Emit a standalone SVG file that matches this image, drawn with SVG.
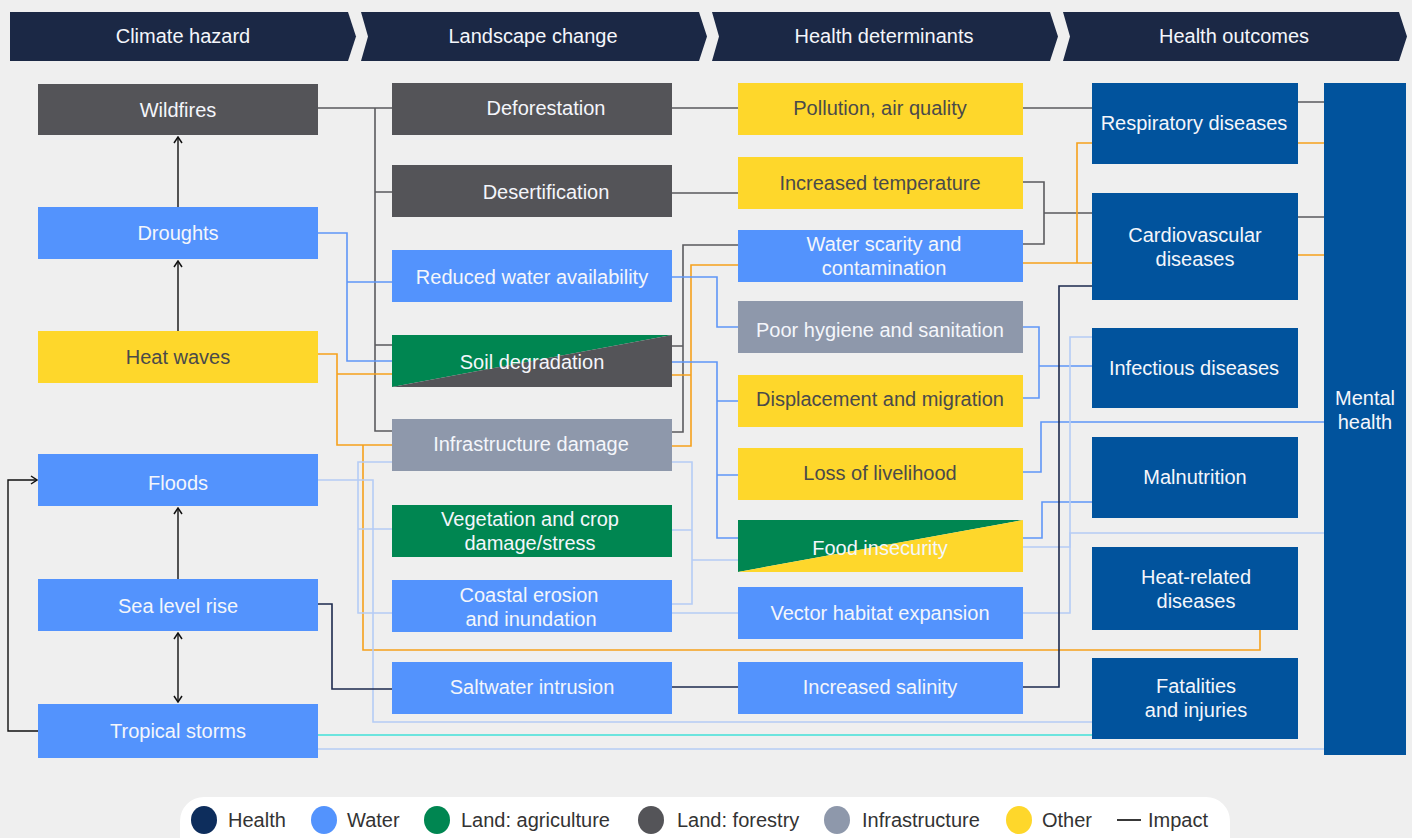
<svg xmlns="http://www.w3.org/2000/svg" width="1412" height="838" viewBox="0 0 1412 838">
<style>
.t{font-family:"Liberation Sans",Arial,sans-serif;font-size:20px;text-anchor:middle}
.tw{fill:#f4f6fb}
.td{fill:#4a4a4a}
.hd{fill:#1b2845}
.water{fill:#5393fd}
.other{fill:#fed72b}
.forest{fill:#545458}
.infra{fill:#8e98ab}
.agri{fill:#008651}
.health{fill:#01539d}
.c{fill:none;stroke-width:1.6}
.gray{stroke:#5a5a5e}
.orange{stroke:#f6a11c}
.blue{stroke:#5f96f7}
.lblue{stroke:#b5ccf5}
.cyan{stroke:#40e0d8}
.navy{stroke:#1d2a4e}
.arr{fill:none;stroke:#111;stroke-width:1.4}
.lg{font-family:"Liberation Sans",Arial,sans-serif;font-size:20px;fill:#333}
</style>
<defs>
<marker id="ah" viewBox="0 0 10 10" refX="9" refY="5" markerWidth="10" markerHeight="10" markerUnits="userSpaceOnUse" orient="auto-start-reverse">
<path d="M3,1 L9,5 L3,9" fill="none" stroke="#111" stroke-width="1.5"/>
</marker>
</defs>
<rect width="1412" height="838" fill="#efefef"/>

<g id="header">
<polygon class="hd" points="10,12 348,12 356,36.5 348,61 10,61"/>
<polygon class="hd" points="361,12 699,12 707,36.5 699,61 361,61 368,36.5"/>
<polygon class="hd" points="712,12 1050,12 1058,36.5 1050,61 712,61 719,36.5"/>
<polygon class="hd" points="1063,12 1399,12 1407,36.5 1399,61 1063,61 1070,36.5"/>
<text class="t tw" x="183" y="43">Climate hazard</text>
<text class="t tw" x="533" y="43">Landscape change</text>
<text class="t tw" x="884" y="43">Health determinants</text>
<text class="t tw" x="1234" y="43">Health outcomes</text>
</g>

<g id="connectors">
<!-- arrows in climate hazard column -->
<path class="arr" d="M178,207 V137" marker-end="url(#ah)"/>
<path class="arr" d="M178,331 V261" marker-end="url(#ah)"/>
<path class="arr" d="M178,579 V508" marker-end="url(#ah)"/>
<path class="arr" d="M178,633 V702" marker-start="url(#ah)" marker-end="url(#ah)"/>
<path class="arr" d="M38,731 H8 V480 H37" marker-end="url(#ah)"/>

<!-- dark gray -->
<path class="c gray" d="M318,108 H375 V431 H392 M375,108 H392 M375,192 H392 M375,345 H392"/>
<path class="c gray" d="M671,108 H738 M671,193 H738"/>
<path class="c gray" d="M671,432 H683 V245 H738 M671,346 H683"/>
<path class="c gray" d="M1023,108 H1092"/>
<path class="c gray" d="M1023,182 H1044 V244 H1023 M1044,213 H1092"/>
<path class="c gray" d="M1297,102 H1324 M1297,217 H1324"/>

<!-- orange -->
<path class="c orange" d="M318,354 H337 V445 H392 M337,374 H392"/>
<path class="c orange" d="M363,445 V650 H1260 V630"/>
<path class="c orange" d="M671,375 H691 M671,446 H691 V265 H738"/>
<path class="c orange" d="M1023,263 H1092 M1077,263 V143 H1092"/>
<path class="c orange" d="M1297,143 H1324 M1297,255 H1324"/>

<!-- blue -->
<path class="c blue" d="M318,233 H347 V361 H392 M347,282 H392"/>
<path class="c blue" d="M671,277 H717 V327 H738"/>
<path class="c blue" d="M671,362 H717 V538 H738 M717,401 H738 M717,475 H738"/>
<path class="c blue" d="M1023,327 H1039 V398 H1023 M1039,366 H1092"/>
<path class="c blue" d="M1023,472 H1041 V422 H1324"/>
<path class="c blue" d="M1023,538 H1042 V502 H1092"/>

<!-- light blue -->
<path class="c lblue" d="M318,480 H373 V722 H1092"/>
<path class="c lblue" d="M392,462 H358 V613 H392 M358,529 H392"/>
<path class="c lblue" d="M671,462 H692 V604 H671 M671,530 H692 M692,560 H738"/>
<path class="c lblue" d="M671,613 H738"/>
<path class="c lblue" d="M1023,613 H1070 V337 H1092"/>
<path class="c lblue" d="M1023,547 H1070 V533 H1324"/>
<path class="c lblue" d="M318,749 H1324"/>

<!-- cyan -->
<path class="c cyan" d="M318,735 H1092"/>

<!-- navy -->
<path class="c navy" d="M318,604 H332 V689 H392"/>
<path class="c navy" d="M671,687 H738"/>
<path class="c navy" d="M1023,687 H1059 V286 H1092"/>
</g>

<!-- Column 1 -->
<g id="wildfires"><rect class="forest" x="38" y="84" width="280" height="51"/><text class="t tw" x="178" y="117">Wildfires</text></g>
<g id="droughts"><rect class="water" x="38" y="207" width="280" height="52"/><text class="t tw" x="178" y="240">Droughts</text></g>
<g id="heatwaves"><rect class="other" x="38" y="331" width="280" height="52"/><text class="t td" x="178" y="364">Heat waves</text></g>
<g id="floods"><rect class="water" x="38" y="454" width="280" height="52"/><text class="t tw" x="178" y="490">Floods</text></g>
<g id="sealevel"><rect class="water" x="38" y="579" width="280" height="52"/><text class="t tw" x="178" y="613">Sea level rise</text></g>
<g id="storms"><rect class="water" x="38" y="704" width="280" height="54"/><text class="t tw" x="178" y="738">Tropical storms</text></g>

<!-- Column 2 -->
<g id="deforestation"><rect class="forest" x="392" y="83" width="280" height="52"/><text class="t tw" x="546" y="115">Deforestation</text></g>
<g id="desertification"><rect class="forest" x="392" y="165" width="280" height="52"/><text class="t tw" x="546" y="199">Desertification</text></g>
<g id="reducedwater"><rect class="water" x="392" y="250" width="280" height="52"/><text class="t tw" x="532" y="284">Reduced water availability</text></g>
<g id="soil"><polygon class="agri" points="392,335 672,335 392,387"/><polygon class="forest" points="672,335 672,387 392,387"/><text class="t tw" x="532" y="369">Soil degradation</text></g>
<g id="infrastructure"><rect class="infra" x="392" y="419" width="280" height="52"/><text class="t tw" x="531" y="451">Infrastructure damage</text></g>
<g id="vegetation"><rect class="agri" x="392" y="505" width="280" height="52"/><text class="t tw" x="530" y="526">Vegetation and crop</text><text class="t tw" x="530" y="550">damage/stress</text></g>
<g id="coastal"><rect class="water" x="392" y="580" width="280" height="52"/><text class="t tw" x="529" y="602">Coastal erosion</text><text class="t tw" x="531" y="626">and inundation</text></g>
<g id="saltwater"><rect class="water" x="392" y="662" width="280" height="52"/><text class="t tw" x="532" y="694">Saltwater intrusion</text></g>

<!-- Column 3 -->
<g id="pollution"><rect class="other" x="738" y="83" width="285" height="52"/><text class="t td" x="880" y="115">Pollution, air quality</text></g>
<g id="temperature"><rect class="other" x="738" y="157" width="285" height="52"/><text class="t td" x="880" y="190">Increased temperature</text></g>
<g id="waterscarcity"><rect class="water" x="738" y="230" width="285" height="52"/><text class="t tw" x="884" y="251">Water scarity and</text><text class="t tw" x="884" y="275">contamination</text></g>
<g id="hygiene"><rect class="infra" x="738" y="301" width="285" height="52"/><text class="t tw" x="880" y="337">Poor hygiene and sanitation</text></g>
<g id="displacement"><rect class="other" x="738" y="375" width="285" height="52"/><text class="t td" x="880" y="406">Displacement and migration</text></g>
<g id="livelihood"><rect class="other" x="738" y="448" width="285" height="52"/><text class="t td" x="880" y="480">Loss of livelihood</text></g>
<g id="food"><polygon class="agri" points="738,520 1023,520 738,572"/><polygon class="other" points="1023,520 1023,572 738,572"/><text class="t tw" x="880" y="555">Food insecurity</text></g>
<g id="vector"><rect class="water" x="738" y="587" width="285" height="52"/><text class="t tw" x="880" y="620">Vector habitat expansion</text></g>
<g id="salinity"><rect class="water" x="738" y="662" width="285" height="52"/><text class="t tw" x="880" y="694">Increased salinity</text></g>

<!-- Column 4 -->
<g id="respiratory"><rect class="health" x="1092" y="83" width="206" height="81"/><text class="t tw" x="1194" y="130">Respiratory diseases</text></g>
<g id="cardio"><rect class="health" x="1092" y="193" width="206" height="107"/><text class="t tw" x="1195" y="242">Cardiovascular</text><text class="t tw" x="1195" y="266">diseases</text></g>
<g id="infectious"><rect class="health" x="1092" y="328" width="206" height="80"/><text class="t tw" x="1194" y="375">Infectious diseases</text></g>
<g id="malnutrition"><rect class="health" x="1092" y="437" width="206" height="81"/><text class="t tw" x="1195" y="484">Malnutrition</text></g>
<g id="heatrelated"><rect class="health" x="1092" y="547" width="206" height="83"/><text class="t tw" x="1196" y="584">Heat-related</text><text class="t tw" x="1196" y="608">diseases</text></g>
<g id="fatalities"><rect class="health" x="1092" y="658" width="206" height="81"/><text class="t tw" x="1196" y="693">Fatalities</text><text class="t tw" x="1196" y="717">and injuries</text></g>
<g id="mental"><rect class="health" x="1324" y="83" width="82" height="672"/><text class="t tw" x="1365" y="405">Mental</text><text class="t tw" x="1365" y="429">health</text></g>

<g id="legend">
<rect x="180" y="797" width="1050" height="70" rx="24" fill="#ffffff"/>
<ellipse cx="204" cy="820" rx="13" ry="14" fill="#0d2d5c"/><text class="lg" x="228" y="827">Health</text>
<ellipse cx="324" cy="820" rx="13" ry="14" fill="#5393fd"/><text class="lg" x="347" y="827">Water</text>
<ellipse cx="437" cy="820" rx="13" ry="14" fill="#008651"/><text class="lg" x="461" y="827">Land: agriculture</text>
<ellipse cx="651" cy="820" rx="13" ry="14" fill="#545458"/><text class="lg" x="677" y="827">Land: forestry</text>
<ellipse cx="837" cy="820" rx="13" ry="14" fill="#8e98ab"/><text class="lg" x="862" y="827">Infrastructure</text>
<ellipse cx="1019" cy="820" rx="13" ry="14" fill="#fed72b"/><text class="lg" x="1042" y="827">Other</text>
<line x1="1117" y1="820" x2="1141" y2="820" stroke="#222" stroke-width="1.8"/><text class="lg" x="1148" y="827">Impact</text>
</g>
</svg>
